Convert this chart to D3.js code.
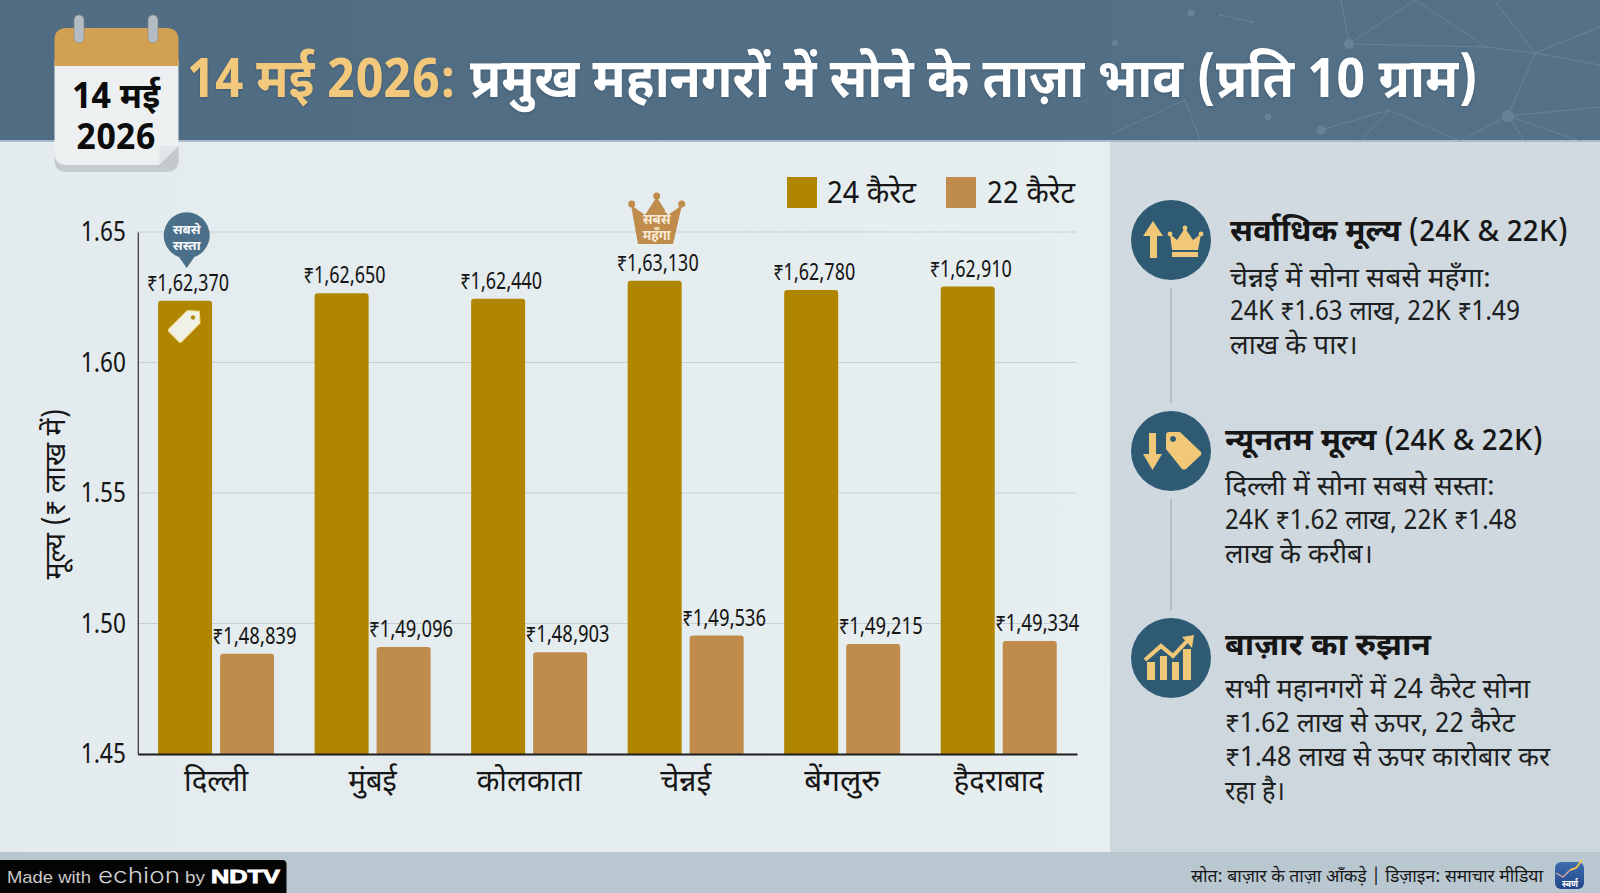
<!DOCTYPE html>
<html lang="hi">
<head>
<meta charset="utf-8">
<title>सोने के ताज़ा भाव</title>
<script src="https://cdn.jsdelivr.net/npm/d3@7/dist/d3.min.js"></script>
<style>
  html, body { margin: 0; padding: 0; background: #e4ebee; overflow: hidden; }
  svg { display: block; }
  text { font-family: "Noto Sans Devanagari", "Noto Sans", "Lohit Devanagari", "Liberation Sans", sans-serif; }
</style>
</head>
<body>
<svg id="chart" width="1600" height="893"></svg>
<script>
// Gold prices per 10 g, by metro
const cities = ["दिल्ली", "मुंबई", "कोलकाता", "चेन्नई", "बेंगलुरु", "हैदराबाद"];
const cityLabelWidths = [64, 48, 105, 51, 76, 90];
const gold24 = [162370, 162650, 162440, 163130, 162780, 162910];
const gold22 = [148839, 149096, 148903, 149536, 149215, 149334];
const karatKeys = ["24 कैरेट", "22 कैरेट"];
const karatColours = ["#b08500", "#c08c4c"];
const yTicks = [1.45, 1.50, 1.55, 1.60, 1.65];

const ink = "#161616";
const badgeBlue = "#2f5a73";
const badgeGold = "#f0c878";

const svg = d3.select("#chart");
const defs = svg.append("defs");

function gradient(id, stops, x2 = 1, y2 = 0) {
  const g = defs.append("linearGradient").attr("id", id)
    .attr("x1", 0).attr("y1", 0).attr("x2", x2).attr("y2", y2);
  stops.forEach(([o, c]) => g.append("stop").attr("offset", o).attr("stop-color", c));
}
gradient("headerFill", [[0, "#4f6c83"], [1, "#557187"]]);
gradient("leftFill", [[0, "#e3ebee"], [1, "#e7eef0"]]);
gradient("rightFill", [[0, "#d3dbe1"], [1, "#ccd6dd"]], 0, 1);
gradient("logoFill", [[0, "#3c6db0"], [1, "#23468a"]], 0, 1);

// Sets a label's drawn width so long Devanagari strings keep their column
function label(parent, str, x, y, size, width, opts = {}) {
  const t = parent.append("text")
    .attr("x", x).attr("y", y)
    .attr("font-size", size)
    .attr("font-weight", opts.weight || 400)
    .attr("fill", opts.fill || ink)
    .attr("text-anchor", opts.anchor || "start")
    .text(str);
  if (width) t.attr("textLength", width).attr("lengthAdjust", "spacingAndGlyphs");
  if (opts.family) t.style("font-family", opts.family);
  return t;
}

/* ---------- page panels ---------- */
svg.append("rect").attr("width", 1110).attr("height", 893).attr("fill", "url(#leftFill)");
svg.append("rect").attr("x", 1110).attr("width", 490).attr("height", 893).attr("fill", "url(#rightFill)");
svg.append("rect").attr("y", 852).attr("width", 1600).attr("height", 41).attr("fill", "#b9c7d1");
svg.append("rect").attr("width", 1600).attr("height", 141).attr("fill", "url(#headerFill)");
svg.append("rect").attr("y", 140).attr("width", 1600).attr("height", 2).attr("fill", "#a9bccb");

/* ---------- faint network pattern in the header ---------- */
const netNodes = [
  [1191, 13, 3.5], [1115, 43, 3], [1349, 44, 5], [1535, 53, 1.5], [1486, 47, 1], [1268, 117, 3.5],
  [1321, 130, 4.5], [1389, 110, 1.5], [1508, 116, 6], [1220, 15, 1], [1252, 22, 1.5], [1600, 27, 1],
  [1415, 0, 1], [1496, 3, 1], [1341, 0, 1], [1185, 100, 1], [1114, 133, 1], [1200, 140, 1],
  [1600, 107, 1], [1600, 65, 1], [1360, 141, 1], [1460, 141, 1], [1525, 141, 1], [1580, 141, 1]
];
const netLinks = [
  [9, 10], [2, 14], [2, 4], [2, 12], [12, 4], [13, 3], [4, 3], [3, 11], [3, 19],
  [6, 7], [7, 20], [7, 21], [8, 18], [8, 22], [8, 21], [8, 23], [15, 16], [15, 17], [3, 8]
];
const net = svg.append("g").attr("opacity", 0.42);
net.selectAll("line").data(netLinks).join("line")
  .attr("x1", d => netNodes[d[0]][0]).attr("y1", d => netNodes[d[0]][1])
  .attr("x2", d => netNodes[d[1]][0]).attr("y2", d => netNodes[d[1]][1])
  .attr("stroke", "#7f9bb0").attr("stroke-width", 1);
net.selectAll("circle").data(netNodes).join("circle")
  .attr("cx", d => d[0]).attr("cy", d => d[1]).attr("r", d => d[2])
  .attr("fill", "#7f9bb0");

/* ---------- title ---------- */
const title = svg.append("g").style("filter", "drop-shadow(0 1px 1px rgba(30,50,70,.35))");
label(title, "14 मई 2026:", 187, 97, 54, 269, { weight: 700, fill: "#f2c97c" });
label(title, "प्रमुख महानगरों में सोने के ताज़ा भाव (प्रति 10 ग्राम)", 470, 97, 54, 1008, { weight: 700, fill: "#ffffff" });

/* ---------- calendar badge ---------- */
const cal = svg.append("g");
cal.append("path").attr("fill", "#c3cad0")
  .attr("d", "M54.5 150H178.5V160Q178.500 172 166 172H67Q54.500 172 54.500 160Z");
cal.append("path").attr("fill", "#edf0f1")
  .attr("d", "M54.5 60H178.5V165H67Q54.500 165 54.500 153Z");
cal.append("path").attr("fill", "#c3c8cb").attr("d", "M178.5 146L159 165H176Q178.500 165 178.500 162Z");
cal.append("path").attr("fill", "#e3e6e8").attr("d", "M178.5 146H160L159 165Z");
cal.append("path").attr("fill", "#d2a052")
  .attr("d", "M54.5 66V40Q54.500 28 67 28H166Q178.500 28 178.500 40V66Z");
[79, 153].forEach(x => {
  cal.append("rect").attr("x", x - 5).attr("y", 15).attr("width", 10).attr("height", 28).attr("rx", 5)
    .attr("fill", "#b3bcc2").attr("stroke", "#8d8570").attr("stroke-width", 0.6);
});
label(cal, "14 मई", 116, 108, 35, 88, { weight: 700, anchor: "middle", fill: "#0c0c0c" });
label(cal, "2026", 116, 149, 35, 79, { weight: 700, anchor: "middle", fill: "#0c0c0c" });

/* ---------- chart scales ---------- */
const plot = { left: 137.8, right: 1077, top: 232, bottom: 754 };
const x0 = d3.scaleBand().domain(cities).range([plot.left, plot.right])
  .paddingInner(0.259).paddingOuter(0.1295);
const x1 = d3.scaleBand().domain(karatKeys).range([0, x0.bandwidth()]).paddingInner(0.129);
const y = d3.scaleLinear().domain([1.45, 1.65]).range([plot.bottom, plot.top]);
const colour = d3.scaleOrdinal().domain(karatKeys).range(karatColours);

/* ---------- gridlines and axes ---------- */
svg.append("g").selectAll("line").data(yTicks.slice(1)).join("line")
  .attr("x1", plot.left).attr("x2", plot.right)
  .attr("y1", d => y(d)).attr("y2", d => y(d))
  .attr("stroke", "#c6cfd4").attr("stroke-width", 1.2);

const yAxis = svg.append("g").attr("transform", `translate(${plot.left},0)`)
  .call(d3.axisLeft(y).tickValues(yTicks).tickFormat(d3.format(".2f")).tickSize(0).tickPadding(12));
yAxis.select(".domain").attr("stroke", "#303030").attr("stroke-width", 1.2);
yAxis.selectAll("text")
  .attr("font-size", 28).attr("fill", ink)
  .attr("textLength", 45).attr("lengthAdjust", "spacingAndGlyphs");

label(svg, "मूल्य (₹ लाख में)", 0, 0, 29, 171, { anchor: "middle" })
  .attr("transform", "translate(65,494) rotate(-90)");

/* ---------- bars ---------- */
function topRoundedBar(xp, top, w, base, r = 3) {
  const p = d3.path();
  p.moveTo(xp, base);
  p.lineTo(xp, top + r);
  p.quadraticCurveTo(xp, top, xp + r, top);
  p.lineTo(xp + w - r, top);
  p.quadraticCurveTo(xp + w, top, xp + w, top + r);
  p.lineTo(xp + w, base);
  p.closePath();
  return p.toString();
}
const rows = cities.map((c, i) => ({ city: c, values: [gold24[i], gold22[i]] }));
const rupee = v => {
  const s = String(v);
  return "₹" + s.slice(0, 1) + "," + s.slice(1, 3) + "," + s.slice(3);
};
const groups = svg.append("g").selectAll("g").data(rows).join("g")
  .attr("transform", d => `translate(${x0(d.city)},0)`);
const pts = groups.selectAll("g").data(d => d.values.map((v, k) => ({ v, key: karatKeys[k], k })))
  .join("g");
pts.append("path")
  .attr("fill", d => colour(d.key))
  .attr("d", d => topRoundedBar(x1(d.key), y(d.v / 100000), x1.bandwidth(), plot.bottom));
pts.append("text")
  .attr("x", d => x1(d.key) + x1.bandwidth() / 2 + (d.k === 0 ? 3 : 7.5))
  .attr("y", d => y(d.v / 100000) - 10)
  .attr("text-anchor", "middle")
  .attr("font-size", 24)
  .attr("fill", ink)
  .attr("textLength", d => d.k === 0 ? 82 : 84)
  .attr("lengthAdjust", "spacingAndGlyphs")
  .text(d => rupee(d.v));

// Baseline and city names sit above the bars
const xAxis = svg.append("g").attr("transform", `translate(0,${plot.bottom})`)
  .call(d3.axisBottom(x0).tickSize(0).tickPadding(15));
xAxis.select(".domain").attr("stroke", "#1e1e1e").attr("stroke-width", 1.8);
xAxis.selectAll("text")
  .attr("font-size", 31).attr("fill", ink)
  .attr("textLength", (d, i) => cityLabelWidths[i]).attr("lengthAdjust", "spacingAndGlyphs");

/* ---------- legend ---------- */
const legend = svg.append("g");
[[787, 827, 89], [946, 987, 88]].forEach((pos, i) => {
  legend.append("rect").attr("x", pos[0]).attr("y", 177).attr("width", 30).attr("height", 31)
    .attr("fill", karatColours[i]);
  label(legend, karatKeys[i], pos[1], 203, 30, pos[2]);
});

/* ---------- cheapest / dearest markers ---------- */
const pin = svg.append("g");
pin.append("path").attr("fill", "#4a6f89")
  .attr("d", "M186.7 268L179 257A23 23 0 1 1 194.400 257Z");
label(pin, "सबसे", 186.7, 234, 13, 28, { weight: 700, anchor: "middle", fill: "#f3f6f8" });
label(pin, "सस्ता", 186.7, 250, 13, 28, { weight: 700, anchor: "middle", fill: "#f3f6f8" });

const tag = svg.append("g").attr("transform", "translate(184.500,326) rotate(45)");
tag.append("path").attr("fill", "#f1f0e6").attr("stroke", "#f5dc8f").attr("stroke-width", 1)
  .attr("d", "M-9 -13L0 -21L9 -13V13Q9 15 7 15H-7Q-9 15 -9 13Z");
tag.append("circle").attr("cy", -12).attr("r", 2.2).attr("fill", "#b08500");

const crown = svg.append("g");
crown.append("path").attr("fill", "#c08c4c")
  .attr("d", "M638 244L631 205L645 215L656.700 197L668 215L682 205L673 244Z");
[[631.7, 204, 3.5], [656.7, 196, 3.5], [681.7, 204, 3.5]].forEach(c => {
  crown.append("circle").attr("cx", c[0]).attr("cy", c[1]).attr("r", c[2]).attr("fill", "#c08c4c");
});
label(crown, "सबसे", 656.7, 224, 14, 28, { weight: 700, anchor: "middle", fill: "#f6ead7" });
label(crown, "महँगा", 656.7, 240, 14, 28, { weight: 700, anchor: "middle", fill: "#f6ead7" });

/* ---------- insight column ---------- */
const side = svg.append("g");
[[288, 403], [499, 610]].forEach(s => {
  side.append("line").attr("x1", 1171).attr("x2", 1171).attr("y1", s[0]).attr("y2", s[1])
    .attr("stroke", "#a9b9c4").attr("stroke-width", 1.6);
});
[240, 451, 658].forEach(cy => {
  side.append("circle").attr("cx", 1171).attr("cy", cy).attr("r", 40).attr("fill", badgeBlue);
});

// Up arrow and crown
side.append("path").attr("fill", badgeGold)
  .attr("d", "M1153 221L1143 236H1150V258H1157V236H1163Z");
side.append("path").attr("fill", badgeGold)
  .attr("d", "M1170 234L1177 240L1185 228L1193 240L1201 234L1198 250H1172Z");
side.append("rect").attr("x", 1172).attr("y", 252).attr("width", 26).attr("height", 5).attr("fill", badgeGold);
[[1170, 234], [1185, 228], [1201, 234]].forEach(c => {
  side.append("circle").attr("cx", c[0]).attr("cy", c[1]).attr("r", 2.4).attr("fill", badgeGold);
});

// Down arrow and price tag
side.append("path").attr("fill", badgeGold)
  .attr("d", "M1149 433H1156V454H1162L1152.500 470L1143 454H1149Z");
side.append("path").attr("fill", badgeGold).attr("fill-rule", "evenodd")
  .attr("d", "M1166 435Q1166 432 1169 432H1180L1201 452Q1202 454 1201 455L1186 469Q1184 470 1182 469L1166 449Z M1173 436a3 3 0 1 0 .1 0Z");

// Rising bars with a trend arrow
[[1147, 8, 18], [1160, 7, 24], [1172, 7, 18], [1183, 8, 31]].forEach(b => {
  side.append("rect").attr("x", b[0]).attr("y", 680 - b[2]).attr("width", b[1]).attr("height", b[2]).attr("fill", badgeGold);
});
side.append("path").attr("fill", "none").attr("stroke", badgeGold).attr("stroke-width", 4)
  .attr("d", "M1145 660L1161 646L1173 656L1188 640");
side.append("path").attr("fill", badgeGold).attr("d", "M1182 637L1194 635L1192 648Z");

const sideHeads = [["सर्वाधिक मूल्य", " (24K & 22K)"], ["न्यूनतम मूल्य", " (24K & 22K)"], ["बाज़ार का रुझान", ""]];
const headPlaces = [[1230, 241, 338], [1225, 450, 318], [1225, 655, 206]];
const bodyLines = [
  ["चेन्नई में सोना सबसे महँगा:", "24K ₹1.63 लाख, 22K ₹1.49", "लाख के पार।"],
  ["दिल्ली में सोना सबसे सस्ता:", "24K ₹1.62 लाख, 22K ₹1.48", "लाख के करीब।"],
  ["सभी महानगरों में 24 कैरेट सोना", "₹1.62 लाख से ऊपर, 22 कैरेट", "₹1.48 लाख से ऊपर कारोबार कर", "रहा है।"]
];
const bodyPlaces = [
  [[287, 261], [320, 290], [354, 128]],
  [[495, 270], [529, 292], [563, 148]],
  [[698, 305], [732, 290], [766, 325], [800, 60]]
];
sideHeads.forEach((h, i) => {
  const [hx, hy, hw] = headPlaces[i];
  const t = label(side, "", hx, hy, 31, hw, { weight: 700 });
  t.append("tspan").text(h[0]);
  if (h[1]) t.append("tspan").attr("font-weight", 500).attr("font-size", 29).text(h[1]);
  bodyLines[i].forEach((line, j) => {
    label(side, line, hx, bodyPlaces[i][j][0], 27, bodyPlaces[i][j][1], { fill: "#1d1f21" });
  });
});

/* ---------- footer ---------- */
label(svg, "स्रोत: बाज़ार के ताज़ा आँकड़े | डिज़ाइन: समाचार मीडिया", 1191, 882, 18, 352);
const logo = svg.append("g");
logo.append("rect").attr("x", 1555).attr("y", 862).attr("width", 29).attr("height", 27).attr("rx", 6).attr("fill", "url(#logoFill)");
logo.append("path").attr("fill", "none").attr("stroke", "#d9a9a0").attr("stroke-width", 1.4)
  .attr("d", "M1556 873L1563 877L1570 870");
logo.append("path").attr("fill", "none").attr("stroke", "#eec24f").attr("stroke-width", 2)
  .attr("d", "M1570 870L1576 868L1582 860");
label(logo, "स्वर्ण", 1570, 887, 10, 16, { weight: 700, anchor: "middle", fill: "#fff" });

const brand = svg.append("g");
brand.append("path").attr("fill", "#050505")
  .attr("d", "M0 860H282Q286.500 860 286.500 864V893H0Z");
const sans = '"Liberation Sans", sans-serif';
label(brand, "Made with", 7, 883, 17, 84, { fill: "#c9c9c9", family: sans });
label(brand, "echion", 98, 883, 22, 82, { fill: "#d4d4d4", family: '"Inter", sans-serif' }).attr("font-weight", 300);
label(brand, "by", 185, 883, 17, 20, { fill: "#c9c9c9", family: sans });
label(brand, "NDTV", 211, 883, 18, 69, { fill: "#ffffff", weight: 700, family: sans })
  .attr("stroke", "#ffffff").attr("stroke-width", 0.8);
</script>
</body>
</html>
